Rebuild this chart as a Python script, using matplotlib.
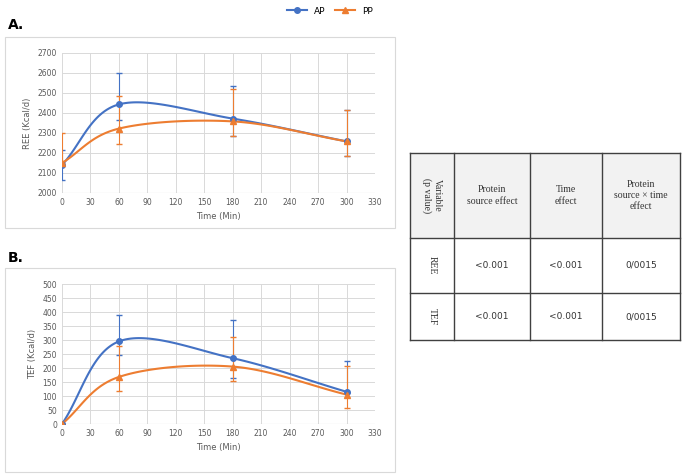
import numpy as np
import matplotlib.pyplot as plt
from matplotlib.patches import Rectangle
from matplotlib.lines import Line2D

time = [0, 60, 180, 300]

ree_ap = [2140, 2443, 2372, 2258]
ree_ap_lo = [75, 78, 85, 75]
ree_ap_hi = [75, 159, 165, 157]
ree_pp = [2150, 2322, 2358, 2258]
ree_pp_lo = [0, 79, 73, 75]
ree_pp_hi = [150, 163, 160, 157]

tef_ap = [0, 295, 235, 115]
tef_ap_lo = [0, 50, 70, 5]
tef_ap_hi = [0, 95, 138, 110]
tef_pp = [0, 168, 205, 105]
tef_pp_lo = [0, 50, 52, 48]
tef_pp_hi = [0, 110, 107, 102]

col_labels = ["Variable\n(p value)", "Protein\nsource effect", "Time\neffect",
              "Protein\nsource × time\neffect"]
row_labels = ["REE", "TEF"]
cells = [["<0.001", "<0.001", "0/0015"], ["<0.001", "<0.001", "0/0015"]]

BLUE = "#4472C4"
ORANGE = "#ED7D31"


def smooth(x, y, n=40):
    # Excel-style smoothed line (Catmull-Rom through the points)
    x = np.asarray(x, float); y = np.asarray(y, float)
    px = np.r_[2 * x[0] - x[1], x, 2 * x[-1] - x[-2]]
    py = np.r_[2 * y[0] - y[1], y, 2 * y[-1] - y[-2]]
    xs, ys = [], []
    t = np.linspace(0, 1, n)
    for i in range(1, len(px) - 2):
        for p, out in ((px, xs), (py, ys)):
            p0, p1, p2, p3 = p[i - 1:i + 3]
            out.extend(0.5 * (2 * p1 + (-p0 + p2) * t + (2 * p0 - 5 * p1 + 4 * p2 - p3) * t ** 2
                              + (-p0 + 3 * p1 - 3 * p2 + p3) * t ** 3))
    return xs, ys


def panel(ax, ap, ap_err, pp, pp_err, ylim, step, ylabel):
    for y, err, c, m in ((ap, ap_err, BLUE, "o"), (pp, pp_err, ORANGE, "^")):
        xs, ys = smooth(time, y)
        ax.plot(xs, ys, color=c, lw=1.5)
        ax.errorbar(time, y, yerr=err, fmt=m, color=c, ms=4, capsize=2, elinewidth=0.8)
    ax.set_xlim(0, 330)
    ax.set_ylim(*ylim)
    ax.set_xticks(range(0, 331, 30))
    ax.set_yticks(np.arange(ylim[0], ylim[1] + 1, step))
    ax.grid(color="#d9d9d9", lw=0.7)
    ax.set_axisbelow(True)
    for s in ax.spines.values():
        s.set_visible(False)
    ax.axhline(ylim[0], color="#bfbfbf", lw=0.8)
    ax.tick_params(length=0, labelsize=5.5, colors="#595959")
    ax.set_xlabel("Time (Min)", fontsize=6, color="#595959")
    ax.set_ylabel(ylabel, fontsize=6, color="#595959")


fig = plt.figure(figsize=(6.85, 4.76), dpi=100)
W, H = 685, 476


def box(l, t, r, b):
    return [l / W, 1 - b / H, (r - l) / W, (b - t) / H]


for rect in (box(5, 37, 395, 228), box(5, 268, 395, 472)):
    fig.patches.append(Rectangle(rect[:2], rect[2], rect[3], transform=fig.transFigure,
                                 fill=False, ec="#d9d9d9", lw=0.8))

ax1 = fig.add_axes(box(62, 53, 375, 193))
panel(ax1, ree_ap, [ree_ap_lo, ree_ap_hi], ree_pp, [ree_pp_lo, ree_pp_hi],
      (2000, 2700), 100, "REE (Kcal/d)")
ax2 = fig.add_axes(box(62, 284, 375, 424))
panel(ax2, tef_ap, [tef_ap_lo, tef_ap_hi], tef_pp, [tef_pp_lo, tef_pp_hi],
      (0, 500), 50, "TEF (Kcal/d)")

fig.text(8 / W, 1 - 25 / H, "A.", fontsize=10, weight="bold", va="center")
fig.text(8 / W, 1 - 258 / H, "B.", fontsize=10, weight="bold", va="center")

handles = [Line2D([], [], color=BLUE, marker="o", ms=4, lw=1.5),
           Line2D([], [], color=ORANGE, marker="^", ms=4, lw=1.5)]
fig.legend(handles, ["AP", "PP"], loc="center", bbox_to_anchor=(330 / W, 1 - 11 / H),
           ncol=2, frameon=False, fontsize=6.5, handlelength=2.2, columnspacing=1.0)

# table
xs = [410, 454, 530, 602, 680]
ys = [153, 238, 293, 340]
tax = fig.add_axes([0, 0, 1, 1])
tax.set_xlim(0, W); tax.set_ylim(H, 0); tax.axis("off")
tax.add_patch(Rectangle((xs[0], ys[0]), xs[-1] - xs[0], ys[1] - ys[0], fc="#f2f2f2", ec="none"))
for x in xs:
    tax.plot([x, x], [ys[0], ys[-1]], color="#404040", lw=1)
for y in ys:
    tax.plot([xs[0], xs[-1]], [y, y], color="#404040", lw=1)
tfont = dict(family="Liberation Serif", fontsize=7, color="#333333")
tax.text((xs[0] + xs[1]) / 2, (ys[0] + ys[1]) / 2, col_labels[0], rotation=270,
         ha="center", va="center", **tfont)
for j, lab in enumerate(col_labels[1:], 1):
    tax.text((xs[j] + xs[j + 1]) / 2, (ys[0] + ys[1]) / 2, lab, ha="center", va="center",
             linespacing=1.3, **tfont)
for i, rl in enumerate(row_labels):
    yc = (ys[i + 1] + ys[i + 2]) / 2
    tax.text((xs[0] + xs[1]) / 2, yc, rl, rotation=270, ha="center", va="center", **tfont)
    for j, v in enumerate(cells[i], 1):
        tax.text((xs[j] + xs[j + 1]) / 2, yc, v, ha="center", va="center",
                 family="DejaVu Sans", fontsize=6.5, color="#333333")

fig.savefig("out.png", dpi=100)
